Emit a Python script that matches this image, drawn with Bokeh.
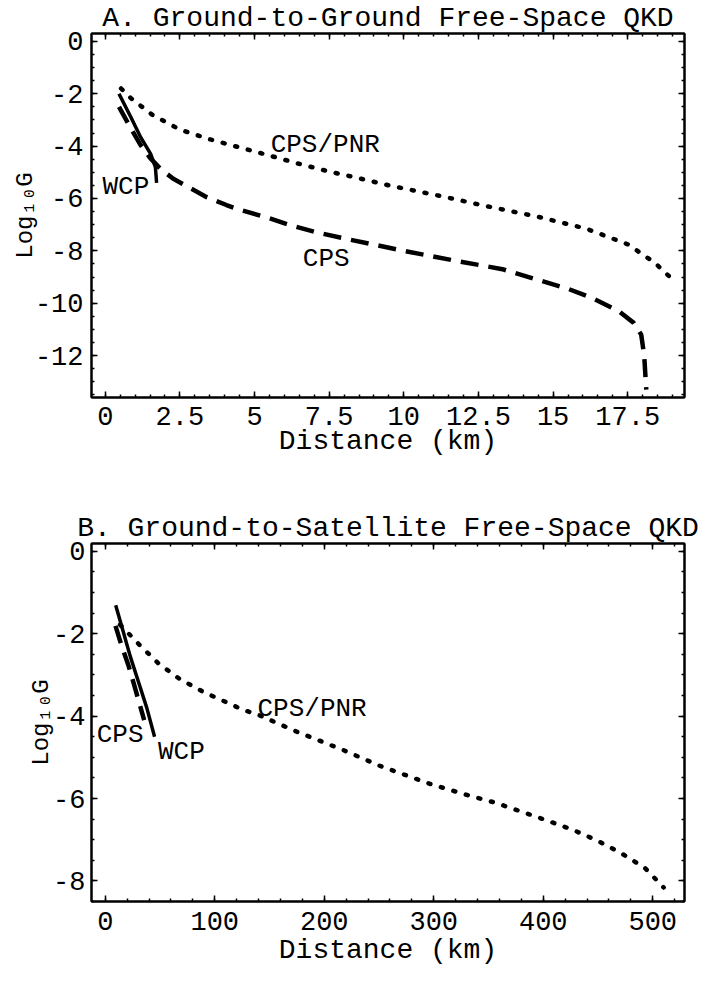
import numpy as np
from bokeh.plotting import figure
from bokeh.models import Range1d, FixedTicker, LinearAxis, CustomJSTickFormatter
from bokeh.models import Label, Title
from bokeh.layouts import column
from bokeh.embed import file_html
from bokeh.resources import INLINE

# ---------------- Panel A: Ground-to-Ground ----------------
a_pnr_x = [0.53, 0.86, 1.57, 2.5, 3.5, 4.5, 5.5, 6.5, 7.6, 8.2, 9.5, 11.2, 12.8, 14.5, 16.1, 17.5, 18.4, 19.1]
a_pnr_y = [-1.8, -2.17, -2.8, -3.37, -3.74, -4.05, -4.36, -4.68, -5.0, -5.15, -5.5, -5.9, -6.3, -6.7, -7.15, -7.75, -8.45, -9.2]

a_cps_x = [0.46, 0.8, 1.19, 1.5, 1.85, 2.28, 2.84, 3.4, 4.06, 4.5, 5.4, 6.2, 7.1, 8.1, 10.0, 11.65, 13.3, 15.5, 16.3, 17.2, 17.7, 17.95, 18.05, 18.12]
a_cps_y = [-2.5, -3.2, -3.97, -4.45, -4.87, -5.25, -5.6, -5.95, -6.25, -6.43, -6.72, -7.02, -7.3, -7.55, -8.0, -8.36, -8.7, -9.45, -9.8, -10.3, -10.75, -11.2, -12.0, -13.3]

a_wcp_x = [0.46, 0.86, 1.19, 1.52, 1.68, 1.72]
a_wcp_y = [-2.0, -2.9, -3.67, -4.3, -4.8, -5.4]

a_xticks = [0, 2.5, 5, 7.5, 10, 12.5, 15, 17.5]
a_xtick_labels = ["0", "2.5", "5", "7.5", "10", "12.5", "15", "17.5"]
a_yticks = [0, -2, -4, -6, -8, -10, -12]
a_ytick_labels = ["0", "-2", "-4", "-6", "-8", "-10", "-12"]

# ---------------- Panel B: Ground-to-Satellite ----------------
b_pnr_x = [13.5, 30.5, 48.5, 68, 90, 112, 125, 139, 175, 217, 250, 296, 331, 356, 378, 402, 427, 450, 472, 493, 510]
b_pnr_y = [-1.78, -2.25, -2.72, -3.1, -3.42, -3.68, -3.84, -3.96, -4.38, -4.82, -5.2, -5.64, -5.92, -6.1, -6.3, -6.52, -6.76, -7.03, -7.34, -7.69, -8.16]

b_cps_x = [9.3, 15, 21.4, 27.4, 35.5]
b_cps_y = [-1.81, -2.3, -2.79, -3.34, -4.1]

b_wcp_x = [9.5, 15.3, 22.8, 30.4, 37.9, 45]
b_wcp_y = [-1.31, -1.85, -2.55, -3.18, -3.8, -4.5]

b_xticks = [0, 100, 200, 300, 400, 500]
b_xtick_labels = ["0", "100", "200", "300", "400", "500"]
b_yticks = [0, -2, -4, -6, -8]
b_ytick_labels = ["0", "-2", "-4", "-6", "-8"]

FONT = "Liberation Mono"
XLABEL = "Distance (km)"
YLABEL = "Log\u2081\u2080G"


def style_axis(ax, ticker, overrides, standoff, show_labels=True):
    ax.ticker = ticker
    ax.axis_line_color = "black"
    ax.axis_line_width = 2
    ax.major_tick_line_color = "black"
    ax.major_tick_line_width = 1.5
    ax.minor_tick_line_color = "black"
    ax.minor_tick_line_width = 1.5
    ax.major_tick_in = 6
    ax.major_tick_out = 0
    ax.minor_tick_in = 3
    ax.minor_tick_out = 0
    ax.major_label_standoff = standoff
    ax.major_label_text_font = FONT
    ax.major_label_text_color = "black"
    ax.major_label_text_font_size = "27px"
    ax.axis_label = None
    if show_labels:
        ax.major_label_overrides = overrides
    else:
        ax.formatter = CustomJSTickFormatter(code="return '';")
        ax.major_label_standoff = 0


def make_panel(title, xr, yr, xticks, xlabels, xminor, yticks, ylabels, yminor,
               height, bl, br, bt, bb, xstand, ystand, xl_stand, yl_stand):
    p = figure(width=703, height=height, x_range=Range1d(*xr), y_range=Range1d(*yr),
               output_backend="svg", toolbar_location=None,
               min_border_left=bl, min_border_right=br,
               min_border_top=bt, min_border_bottom=bb)
    p.title.text = title
    p.title.align = "center"
    p.title.text_font = FONT
    p.title.text_font_size = "28px"
    p.title.text_font_style = "normal"
    p.title.text_color = "black"
    p.title.standoff = 0
    p.xgrid.visible = False
    p.ygrid.visible = False
    p.outline_line_color = "black"
    p.outline_line_width = 2
    p.background_fill_color = "white"
    p.border_fill_color = "white"
    xt = FixedTicker(ticks=xticks, minor_ticks=xminor)
    yt = FixedTicker(ticks=yticks, minor_ticks=yminor)
    xa = p.xaxis[0]
    ya = p.yaxis[0]
    style_axis(xa, xt, dict(zip(xticks, xlabels)), xstand)
    style_axis(ya, yt, dict(zip(yticks, ylabels)), ystand)
    ya.axis_label = YLABEL
    ya.axis_label_text_font = FONT
    ya.axis_label_text_font_size = "24px"
    ya.axis_label_text_font_style = "normal"
    ya.axis_label_text_color = "black"
    ya.axis_label_standoff = yl_stand
    top = LinearAxis()
    style_axis(top, xt, {}, 0, show_labels=False)
    p.add_layout(top, "above")
    right = LinearAxis()
    style_axis(right, yt, {}, 0, show_labels=False)
    p.add_layout(right, "right")
    xtitle = Title(text=XLABEL, align="center", text_font=FONT, text_font_size="28px",
                   text_font_style="normal", text_color="black", standoff=xl_stand)
    p.add_layout(xtitle, "below")
    return p


def add_text(p, x, y, text, align="left"):
    p.add_layout(Label(x=x, y=y, text=text, text_font=FONT, text_font_size="26px",
                       text_align=align, text_baseline="middle", text_color="black"))


# ---------- Panel A ----------
pa = make_panel("A. Ground-to-Ground Free-Space QKD", (-0.46, 19.4), (-13.6, 0.3),
                a_xticks, a_xtick_labels, list(np.arange(-0.5, 19.5, 0.5)),
                a_yticks, a_ytick_labels, list(np.arange(-13.5, 0.5, 0.5)),
                471, 82, 19, 26, 74, 9, 8, -7, -7)
pa.line(a_pnr_x, a_pnr_y, line_color="black", line_width=4.5, line_dash="2 11", line_cap="round")
pa.line(a_cps_x, a_cps_y, line_color="black", line_width=4.5, line_dash="18 10")
pa.line(a_wcp_x, a_wcp_y, line_color="black", line_width=3.5)
add_text(pa, 5.54, -3.97, "CPS/PNR")
add_text(pa, 7.4, -8.3, "CPS", align="center")
add_text(pa, 0.69, -5.55, "WCP", align="center")

# ---------- Panel B ----------
pb = make_panel("B. Ground-to-Satellite Free-Space QKD", (-12.6, 529), (-8.5, 0.19),
                b_xticks, b_xtick_labels, list(np.arange(-20, 540, 20)),
                b_yticks, b_ytick_labels, list(np.arange(-8.5, 0.5, 0.5)),
                494, 91, 12, 72, 52, 10, 6, 0, -5)
pb.line(b_pnr_x, b_pnr_y, line_color="black", line_width=4.5, line_dash="2 11", line_cap="round")
pb.line(b_cps_x, b_cps_y, line_color="black", line_width=4.5, line_dash="18 10")
pb.line(b_wcp_x, b_wcp_y, line_color="black", line_width=3.5)
add_text(pb, 139, -3.82, "CPS/PNR")
add_text(pb, 13.5, -4.45, "CPS", align="center")
add_text(pb, 69.5, -4.88, "WCP", align="center")

layout = column(pa, pb, spacing=0)
open("out.html", "w").write(file_html(layout, INLINE))
